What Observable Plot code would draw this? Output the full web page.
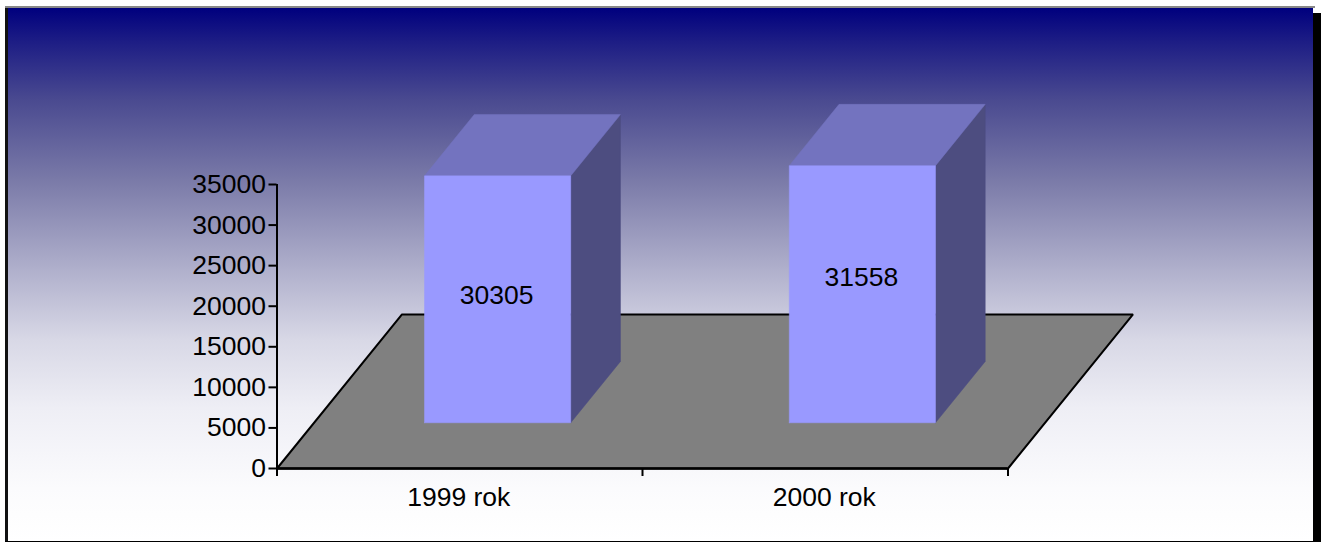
<!DOCTYPE html>
<html>
<head>
<meta charset="utf-8">
<script src="https://cdn.jsdelivr.net/npm/d3@7"></script>
<script src="https://cdn.jsdelivr.net/npm/@observablehq/plot@0.6"></script>
<style>
html,body{margin:0;padding:0;background:#fff;width:1323px;height:542px;overflow:hidden}
#wrap{position:relative;width:1323px;height:542px;overflow:hidden}
#shadow{position:absolute;left:1313px;top:13px;width:8px;height:529px;background:#000}
#panel{position:absolute;left:8px;top:8px;width:1305px;height:533px;
background:linear-gradient(to bottom,#00007e 0px,#1a1a84 30px,#4a4a90 92px,#7a7aa8 172px,#b0b0cc 262px,#d8d8e6 332px,#eeeef5 400px,#fbfbfd 480px,#ffffff 533px)}
#lineTop{position:absolute;left:5px;top:6px;width:1310px;height:2px;background:#888}
#lineLeft{position:absolute;left:5px;top:8px;width:3px;height:534px;background:#111}
#lineBottom{position:absolute;left:5px;top:541px;width:1316px;height:1px;background:#000}
#chart{position:absolute;left:0;top:0}
#chart svg{background:transparent;display:block}
</style>
</head>
<body>
<div id="wrap">
<div id="shadow"></div><div id="panel"></div><div id="lineTop"></div><div id="lineLeft"></div><div id="lineBottom"></div>
<div id="chart"></div>
</div>
<script>
const categories = ["1999 rok", "2000 rok"];
const values = [30305, 31558];
const labelHeights = [21320, 23540];
const yTicks = [0, 5000, 10000, 15000, 20000, 25000, 30000, 35000];

const depthX = 0.342, depthY = 18980;   // oblique projection of the floor depth, in scale units
const barStart = [0.302, 1.3], barWidth = 0.4;
const depthFront = 0.297, depthBack = 0.695;
const heightFactor = 1.004;

const pt = (u, v, d) => ({x: u + d * depthX, y: v + d * depthY});
const floor = [pt(0,0,0), pt(2,0,0), pt(2,0,1), pt(0,0,1), pt(0,0,0)];
const faces = values.map((val, i) => {
  const v = val * heightFactor;
  const a = barStart[i], b = a + barWidth, f = depthFront, k = depthBack;
  return {
    front: [pt(a,0,f), pt(b,0,f), pt(b,v,f), pt(a,v,f), pt(a,0,f)],
    top: [pt(a,v,f), pt(b,v,f), pt(b,v,k), pt(a,v,k), pt(a,v,f)],
    side: [pt(b,0,f), pt(b,0,k), pt(b,v,k), pt(b,v,f), pt(b,0,f)]
  };
});
const poly = (data, fill) => Plot.line(data, {x: "x", y: "y", fill, stroke: fill, strokeWidth: 0.5});

const font = "'Liberation Sans', Arial, sans-serif";
const chart = Plot.plot({
  width: 1323, height: 542,
  marginLeft: 276.5, marginRight: 315.5, marginTop: 184, marginBottom: 74,
  style: {background: "transparent", fontFamily: font},
  x: {type: "linear", domain: [0, 2], axis: null},
  y: {type: "linear", domain: [0, 35000], axis: null},
  marks: [
    Plot.line(floor, {x: "x", y: "y", fill: "#808080", stroke: "#000", strokeWidth: 2, strokeLinejoin: "miter"}),
    ...faces.flatMap(f => [poly(f.side, "#4d4d80"), poly(f.top, "#7373bf"), poly(f.front, "#9999ff")]),
    Plot.ruleX([0], {y1: 0, y2: 35000, stroke: "#000", strokeWidth: 2}),
    Plot.ruleY([0], {x1: 0, x2: 2, stroke: "#000", strokeWidth: 2.5}),
    Plot.axisY({ticks: yTicks, tickSize: 8, tickPadding: 3, fontSize: 26.5, strokeWidth: 2, stroke: "#000", fill: "#000", label: null, tickFormat: d => String(d)}),
    Plot.axisX({ticks: [0, 1, 2], tickSize: 8, tickFormat: () => "", strokeWidth: 2, stroke: "#000", label: null}),
    Plot.text(categories, {x: (d, i) => i + 0.5, y: 0, text: d => d, dy: 29, dx: -1, fontSize: 26.5, fill: "#000", textAnchor: "middle"}),
    Plot.text(values, {x: (d, i) => barStart[i] + barWidth / 2 + depthFront * depthX, y: (d, i) => labelHeights[i], text: d => String(d), dx: -1, fontSize: 26.5, fill: "#000"})
  ]
});
document.getElementById("chart").append(chart);
</script>
</body>
</html>
